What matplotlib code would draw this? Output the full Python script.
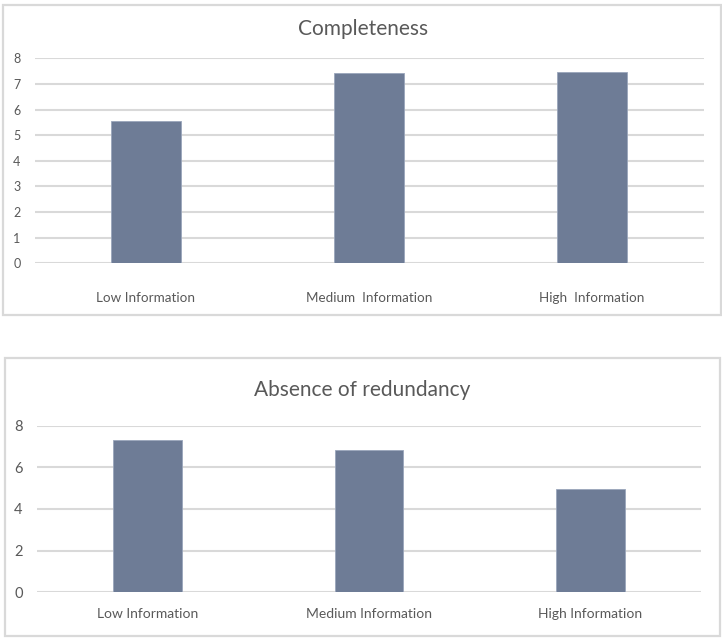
import matplotlib.pyplot as plt
from matplotlib.patches import Rectangle

plt.rcParams['font.family'] = ['Lato', 'DejaVu Sans']

# Values
categories_top = ['Low Information', 'Medium  Information', 'High  Information']
completeness = [5.57, 7.42, 7.46]

categories_bottom = ['Low Information', 'Medium Information', 'High Information']
absence_of_redundancy = [7.31, 6.84, 4.97]

BAR_COLOR = '#6e7c96'
GRID_COLOR = '#d9d9d9'
TEXT_COLOR = '#595959'

W, H = 722, 638
fig = plt.figure(figsize=(W / 100, H / 100), dpi=100)


def fig_rect(x0, y0, x1, y1):
    # pixel box (top-left origin) -> figure fraction [left, bottom, width, height]
    return [x0 / W, 1 - y1 / H, (x1 - x0) / W, (y1 - y0) / H]


def draw_box(x0, y0, x1, y1):
    l, b, w, h = fig_rect(x0, y0, x1, y1)
    fig.patches.append(Rectangle((l, b), w, h, transform=fig.transFigure,
                                 facecolor='none', edgecolor=GRID_COLOR, linewidth=1.6))


def bar_panel(rect, cats, vals, ymax, ystep, width, tick_size, tick_pad, label_size, label_pad):
    ax = fig.add_axes(rect)
    x = range(len(cats))
    ax.bar(x, vals, width=width, color=BAR_COLOR, edgecolor='#9aa6bb', linewidth=0.6, zorder=3)
    ax.set_xlim(-0.5, len(cats) - 0.5)
    ax.set_ylim(0, ymax)
    ax.set_yticks(range(0, ymax + 1, ystep))
    ax.yaxis.grid(True, color=GRID_COLOR, linewidth=1.5, zorder=0)
    ax.set_xticks(list(x))
    ax.set_xticklabels(cats)
    ax.tick_params(axis='y', length=0, pad=tick_pad, labelsize=tick_size, labelcolor=TEXT_COLOR)
    ax.tick_params(axis='x', length=0, pad=label_pad, labelsize=label_size, labelcolor=TEXT_COLOR)
    for s in ax.spines.values():
        s.set_visible(False)
    ax.set_facecolor('none')
    return ax


# top chart: Completeness
draw_box(3, 4.5, 721, 315)
ax1 = bar_panel(fig_rect(34.5, 58.3, 703.5, 263.3), categories_top, completeness,
                8, 1, 0.314, 9, 10, 9.7, 20.5)
fig.text(363 / W, 1 - 29 / H, 'Completeness', ha='center', va='center',
         fontsize=15, color=TEXT_COLOR)

# bottom chart: Absence of redundancy
draw_box(5, 357.5, 719.5, 636)
ax2 = bar_panel(fig_rect(36.7, 425.7, 701, 592.3), categories_bottom, absence_of_redundancy,
                8, 2, 0.31, 10.5, 10, 10, 11)
fig.text(362 / W, 1 - 390 / H, 'Absence of redundancy', ha='center', va='center',
         fontsize=15, color=TEXT_COLOR)

fig.savefig('out.png', dpi=100)
